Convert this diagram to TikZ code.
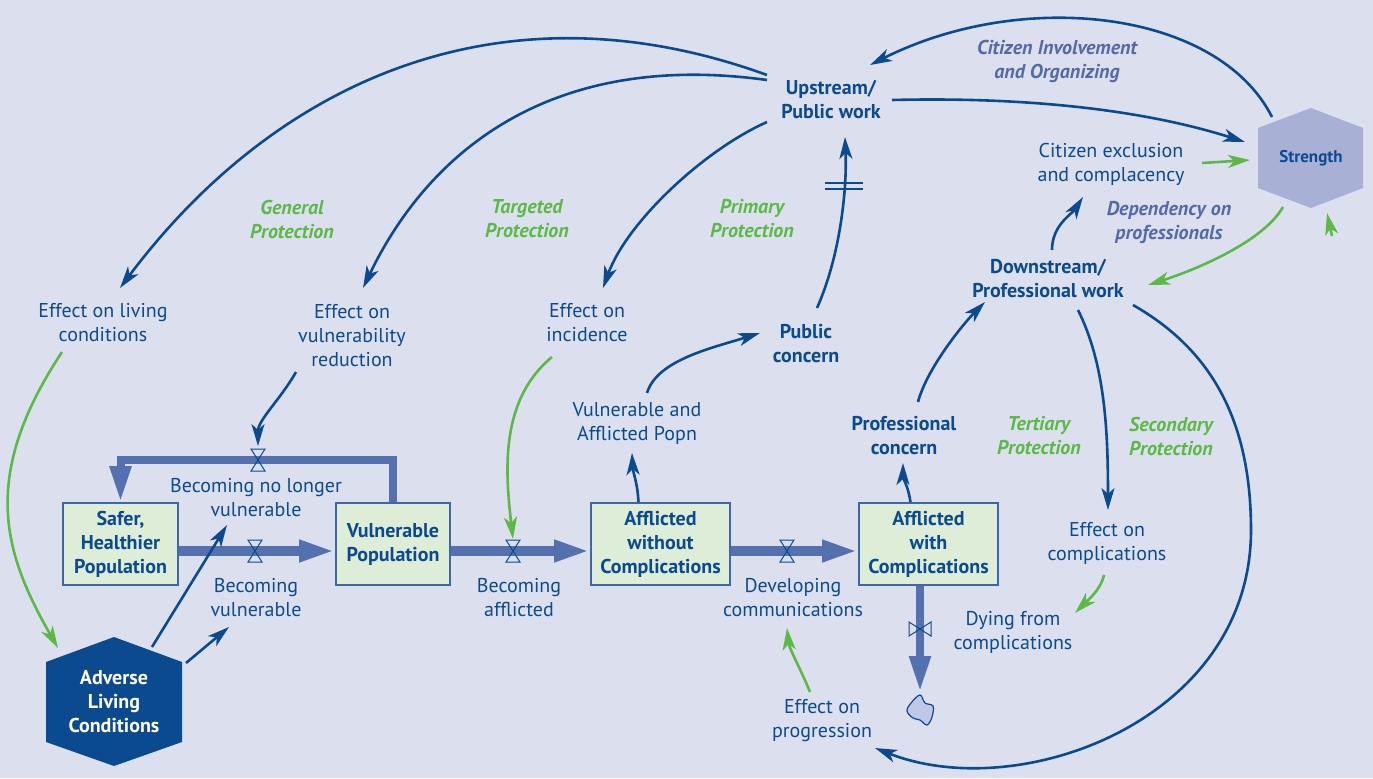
\documentclass[tikz,border=0pt]{standalone}
\usepackage{fontspec}
\setmainfont{PT Sans}
\usetikzlibrary{arrows.meta}
\definecolor{bgblue}{HTML}{DCE0EE}
\definecolor{dblue}{HTML}{0B4A8F}
\definecolor{pipe}{HTML}{5470AE}
\definecolor{boxline}{HTML}{3D68A8}
\definecolor{boxfill}{HTML}{DDEDD8}
\definecolor{pgreen}{HTML}{5CB947}
\definecolor{slate}{HTML}{5369A9}
\definecolor{hexfill}{HTML}{A8B1D5}
\definecolor{cloudfill}{HTML}{BFC8E6}
\begin{document}
\begin{tikzpicture}[x=0.5pt, y=0.5pt,
  txt/.style={text=dblue, align=center, inner sep=0pt, font=\fontsize{10}{12}\selectfont},
  bld/.style={txt, font=\fontsize{10}{12}\selectfont\bfseries},
  prot/.style={align=center, inner sep=0pt, text=pgreen, font=\fontsize{10}{12}\selectfont\bfseries\itshape},
  civ/.style={prot, text=slate},
  stock/.style={bld, draw=boxline, fill=boxfill, line width=0.8pt, minimum height=41pt},
  flow/.style={draw=pipe, line width=5pt, -{Triangle[length=18pt,width=10pt]}},
  link/.style={draw=dblue, line width=1.3pt, -{Stealth[length=11pt,width=6.5pt,inset=3pt]}},
  glink/.style={link, draw=pgreen},
  valve/.pic={\draw[dblue, line width=0.5pt] (-3.5pt,5.5pt) -- (3.5pt,5.5pt) -- (-3.5pt,-5.5pt) -- (3.5pt,-5.5pt) -- cycle;}
]
\fill[bgblue] (0,0) rectangle (1373,-778);
\useasboundingbox (0,0) rectangle (1373,-778);

% hexagons
\fill[hexfill] (1311,-108) -- (1363,-128) -- (1363,-188) -- (1311,-208) -- (1258,-188) -- (1258,-128) -- cycle;
\node[bld, font=\fontsize{8.5}{10}\selectfont\bfseries] (str) at (1311,-158) {Strength};
\fill[dblue] (114,-637) -- (182,-662) -- (182,-742) -- (114,-766) -- (46,-742) -- (46,-662) -- cycle;
\node[bld, text=white] (alc) at (114,-702) {Adverse\\Living\\Conditions};

% stocks
\node[stock, minimum width=57.5pt] (safer) at (120.5,-544) {Safer,\\Healthier\\Population};
\node[stock, minimum width=57pt] (vuln) at (393,-544) {Vulnerable\\Population};
\node[stock, minimum width=69.5pt] (aw) at (660.5,-544) {Afflicted\\without\\Complications};
\node[stock, minimum width=69.5pt] (awc) at (928.5,-544) {Afflicted\\with\\Complications};

% variables
\node[bld] (up) at (831,-100) {Upstream/\\Public work};
\node[bld] (dw) at (1048,-279) {Downstream/\\Professional work};
\node[bld] (pc) at (806,-344) {Public\\concern};
\node[bld] (prc) at (904,-436) {Professional\\concern};
\node[txt] (elc) at (103,-323) {Effect on living\\conditions};
\node[txt] (evr) at (352,-336) {Effect on\\vulnerability\\reduction};
\node[txt] (ein) at (587,-323) {Effect on\\incidence};
\node[txt] (vap) at (637,-423) {Vulnerable and\\Afflicted Popn};
\node[txt] (cec) at (1111,-164) {Citizen exclusion\\and complacency};
\node[txt] (eco) at (1107,-543) {Effect on\\complications};
\node[txt] (dfc) at (1013,-632) {Dying from\\complications};
\node[txt] (epr) at (822,-721) {Effect on\\progression};
\node[txt] (dev) at (793,-598) {Developing\\communications};
\node[txt] (baf) at (519,-598) {Becoming\\afflicted};
\node[txt] (bvu) at (256,-598) {Becoming\\vulnerable};
\node[txt] (bnl) at (256,-498) {Becoming no longer\\vulnerable};

% loop labels
\node[prot] (gp) at (292,-219) {General\\Protection};
\node[prot] (tp) at (527,-219) {Targeted\\Protection};
\node[prot] (pp) at (752,-219) {Primary\\Protection};
\node[prot] (trp) at (1039,-436) {Tertiary\\Protection};
\node[prot] (sp) at (1171,-436) {Secondary\\Protection};
\node[civ] (cio) at (1057,-61) {Citizen Involvement\\and Organizing};
\node[civ] (dop) at (1169,-222) {Dependency on\\professionals};

% pipes and valves
\coordinate (v0) at (255,-551);
\coordinate (v1) at (258,-460);
\coordinate (v2) at (513,-551);
\coordinate (v3) at (787,-551);
\coordinate (v4) at (920,-629);
\coordinate (sink) at (920,-692);
\draw[flow] ([yshift=-3.5pt]safer.east) -- ([yshift=-3.5pt]vuln.west);
\draw[flow] ([yshift=-3.5pt]vuln.east) -- ([yshift=-3.5pt]aw.west);
\draw[flow] ([yshift=-3.5pt]aw.east) -- ([yshift=-3.5pt]awc.west);
\draw[flow, line width=4pt] (vuln.north) |- (v1) -| (safer.north);
\draw[flow, line width=4pt] (awc.south -| v4) -- (sink);
\pic at (v0) {valve};
\pic at (v1) {valve};
\pic at (v2) {valve};
\pic at (v3) {valve};
\pic[rotate=90] at (v4) {valve};
\draw[dblue, fill=cloudfill, line width=0.6pt] plot[smooth cycle, tension=0.6] coordinates {(920,-695) (925,-703) (933,-706) (932,-717) (927,-725) (920,-720) (913,-718) (907,-711) (911,-703)};

% links
\draw[link] ([shift={(-64,25)}]up.center) .. controls +(-273,99) and +(150,200) .. ([shift={(17,35)}]elc.center);
\draw[link] ([shift={(-64,20)}]up.center) .. controls +(-218,30) and +(65,135) .. ([shift={(11,48)}]evr.center);
\draw[link] ([shift={(-64,-22)}]up.center) .. controls +(-63,-28) and +(24,66) .. ([shift={(16,35)}]ein.center);
\draw[link] ([shift={(11,36)}]pc.center) .. controls +(24,54) and +(2,-50) .. ([shift={(14,-37)}]up.center) coordinate[pos=0.7] (delay);
\draw[dblue, line width=0.8pt] ([shift={(-19,3)}]delay) -- ++(38,0) ([shift={(-19,-3)}]delay) -- ++(38,0);
\draw[link] ([shift={(10,30)}]vap.center) .. controls +(10,33) and +(-48,-15) .. ([shift={(-46,11)}]pc.center);
\draw[link] ([xshift=-11pt]aw.north) .. controls +(-1,20) and +(1,-20) .. ([shift={(-5,-30)}]vap.center);
\draw[link] ([xshift=-9pt]awc.north) .. controls +(-2,15) and +(0,-15) .. ([shift={(-1,-27)}]prc.center);
\draw[link] ([shift={(14,34)}]prc.center) .. controls +(9,34) and +(-21,-21) .. ([shift={(-63,-23)}]dw.center);
\draw[link] ([shift={(4,29)}]dw.center) .. controls +(0,25) and +(-11,-17) .. ([shift={(-28,-33)}]cec.center);
\draw[link] ([shift={(30,-31)}]dw.center) .. controls +(27,-54) and +(0,80) .. ([shift={(1,33)}]eco.center);
\coordinate (rim) at (1251,-530);
\draw[link] ([shift={(85,-26)}]dw.center) .. controls +(70,-40) and +(0,120) .. (rim) .. controls +(0,-190) and +(145,-57) .. ([shift={(53,-27)}]epr.center);
\draw[link] ([shift={(61,0)}]up.center) .. controls +(120,3) and +(-110,35) .. ([shift={(-66,16)}]str.center);
\draw[link] ([shift={(-39,41)}]str.center) .. controls +(-54,107) and +(153,77) .. ([shift={(39,35)}]up.center);
\draw[link] ([shift={(38,55)}]alc.center) -- ([shift={(-29,-27)}]bnl.center);
\draw[link] ([shift={(72,39)}]alc.center) -- ([shift={(-27,-29)}]bvu.center);
\draw[link] ([shift={(-56,-36)}]evr.center) .. controls +(-16,-28) and +(0,26) .. ([yshift=7pt]v1);

% green links
\draw[glink] ([shift={(-41,-29)}]elc.center) .. controls +(-82,-124) and +(-55,96) .. ([shift={(-56,54)}]alc.center);
\draw[glink] ([shift={(-35,-34)}]ein.center) .. controls +(-52,-43) and +(-8,69) .. ([yshift=6pt]v2);
\draw[glink] ([shift={(91,1)}]cec.center) -- ([shift={(-61,-2)}]str.center);
\draw[glink] ([shift={(-28,-49)}]str.center) .. controls +(-20,-35) and +(47,15) .. ([shift={(100,-6)}]dw.center);
\draw[glink] ([shift={(-3,-32)}]eco.center) .. controls +(-3,-15) and +(10.5,10.5) .. ([shift={(62,19)}]dfc.center);
\draw[glink] ([shift={(-12,29)}]epr.center) .. controls +(-8,20) and +(2,-20) .. ([shift={(-6,-30)}]dev.center);
\coordinate (gtail) at (1332,-236);
\coordinate (gtip) at (1327,-213);
\draw[glink] (gtail) -- (gtip);
\end{tikzpicture}
\end{document}
